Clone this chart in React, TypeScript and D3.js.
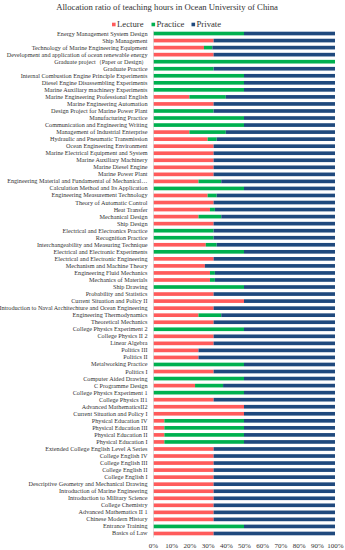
import { useEffect, useRef } from 'react';
import * as d3 from 'd3';

const categories = [
  'Energy Management System Design',
  'Ship Management',
  'Technology of  Marine Engineering Equipment',
  'Development and application of ocean renewable energy',
  'Graduate project（Paper or Design）',
  'Graduate Practice',
  'Internal Combustion Engine Principle Experiments',
  'Diesel Engine Disassembling Experiments',
  'Marine Auxiliary machinery Experiments',
  'Marine Engineering Professional English',
  'Marine Engineering Automation',
  'Design Project for Marine Power Plant',
  'Manufacturing Practice',
  'Communication and Engineering Writing',
  'Management of  Industrial Enterprise',
  'Hydraulic and Pneumatic Transmission',
  'Ocean Engineering Environment',
  'Marine Electrical Equipment and System',
  'Marine Auxiliary Machinery',
  'Marine Diesel Engine',
  'Marine Power Plant',
  'Engineering Material and Fundamental of Mechanical…',
  'Calculation Method and Its Application',
  'Engineering Measurement Technology',
  'Theory of Automatic Control',
  'Heat Transfer',
  'Mechanical Design',
  'Ship Design',
  'Electrical and Electronics Practice',
  'Recognition Practice',
  'Interchangeability and Measuring Technique',
  'Electrical and Electronic Experiments',
  'Electrical and Electronic Engineering',
  'Mechanism and Machine Theory',
  'Engineering Fluid Mechanics',
  'Mechanics of Materials',
  'Ship Drawing',
  'Probability and Statistics',
  'Current Situation and Policy II',
  'Introduction to Naval Architechture and Ocean Engineering',
  'Engineering Thermodynamics',
  'Theoretical Mechanics',
  'College Physics Experiment 2',
  'College Physics II 2',
  'Linear Algebra',
  'Politics III',
  'Politics II',
  'Metalworking Practice',
  'Politics I',
  'Computer Aided Drawing',
  'C Programme Design',
  'College Physics Experiment 1',
  'College Physics II1',
  'Advanced MathematicsII2',
  'Current Situation and Policy I',
  'Physical Education IV',
  'Physical Education III',
  'Physical Education II',
  'Physical Education I',
  'Extended College English Level A Series',
  'College English IV',
  'College English III',
  'College English II',
  'College English I',
  'Descriptive Geometry and Mechanical Drawing',
  'Introduction of Marine Engineering',
  'Introduction to Military Science',
  'College Chemistry',
  'Advanced Mathematics II 1',
  'Chinese Modern History',
  'Entrance Training',
  'Basics of Law',
];

// percentages
const lecture = [
  0, 33.3, 28, 33.3, 0, 0, 0, 0, 0, 20, 33.3, 0, 0, 0, 20, 30, 33.3, 33.3, 33.3, 33.3,
  33.3, 25, 0, 30, 33.3, 31.3, 25, 33.3, 0, 0, 29, 0, 33.3, 28.5, 31.3, 31.3, 0, 33.3,
  50, 33.3, 25, 33.3, 0, 33.3, 33.3, 25, 25, 0, 33.3, 0, 23.1, 0, 33.3, 50, 50, 6.25,
  6.25, 6.25, 6.25, 33.3, 33.3, 33.3, 33.3, 33.3, 33.3, 33.3, 33.3, 33.3, 33.3, 33.3, 0,
  33.3,
];
const practice = [
  50, 0, 4.6, 0, 100, 33.3, 50, 50, 50, 20, 0, 33.3, 50, 50, 20, 5, 0, 0, 0, 0,
  0, 12.5, 50, 5, 0, 2.7, 12.5, 0, 33.3, 33.3, 6, 50, 0, 0, 2.7, 2.7, 50, 0,
  0, 0, 12.5, 0, 50, 0, 0, 0, 0, 50, 0, 50, 15.4, 50, 0, 0, 0, 43.75,
  43.75, 43.75, 43.75, 0, 0, 0, 0, 0, 0, 0, 0, 0, 0, 0, 50,
  0,
];
const privateHours = [
  50, 66.7, 67.4, 66.7, 0, 66.7, 50, 50, 50, 60, 66.7, 66.7, 50, 50, 60, 65, 66.7, 66.7, 66.7, 66.7,
  66.7, 62.5, 50, 65, 66.7, 66, 62.5, 66.7, 66.7, 66.7, 65, 50, 66.7, 71.5, 66, 66, 50, 66.7,
  50, 66.7, 62.5, 66.7, 50, 66.7, 66.7, 75, 75, 50, 66.7, 50, 61.5, 50, 66.7, 50, 50, 50,
  50, 50, 50, 66.7, 66.7, 66.7, 66.7, 66.7, 66.7, 66.7, 66.7, 66.7, 66.7, 66.7, 50,
  66.7,
];

const seriesNames = ['Lecture', 'Practice', 'Private'];
const colors = ['#ff5b5b', '#00b04f', '#1f497d'];
const xTicks = [0, 10, 20, 30, 40, 50, 60, 70, 80, 90, 100];

const font = '"Liberation Serif", "Times New Roman", serif';

export default function App() {
  const svgRef = useRef<SVGSVGElement>(null);
  const width = 345;
  const height = 550;

  useEffect(() => {
    if (!svgRef.current) return;
    const svg = d3.select(svgRef.current);
    svg.selectAll('*').remove();

    const margin = { top: 30, right: 10, bottom: 13, left: 153 };
    const plotW = 335 - margin.left;

    const rows = categories.map((c, i) => ({
      name: c,
      Lecture: lecture[i],
      Practice: practice[i],
      Private: privateHours[i],
    }));

    const stack = d3.stack<any>().keys(seriesNames);
    const layers = stack(rows);

    const x = d3.scaleLinear().domain([0, 100]).range([margin.left, margin.left + plotW]);
    const y = d3
      .scaleBand()
      .domain(categories)
      .range([margin.top, height - margin.bottom])
      .paddingInner(0.48)
      .paddingOuter(0.24);

    // title
    svg
      .append('text')
      .attr('x', 167)
      .attr('y', 9.5)
      .attr('text-anchor', 'middle')
      .attr('font-family', font)
      .attr('font-size', '8.7px')
      .attr('fill', '#333')
      .text('Allocation ratio of teaching hours in Ocean University of  China');

    // legend
    const legendX = [112, 151.5, 191.5];
    const legend = svg
      .selectAll('.legend')
      .data(seriesNames)
      .enter()
      .append('g')
      .attr('transform', (_d, i) => `translate(${legendX[i]},24.5)`);
    legend
      .append('rect')
      .attr('x', 0)
      .attr('y', -1.8)
      .attr('width', 3.6)
      .attr('height', 3.6)
      .attr('fill', (_d, i) => colors[i]);
    legend
      .append('text')
      .attr('x', 5)
      .attr('y', 2.9)
      .attr('font-family', font)
      .attr('font-size', '8.7px')
      .attr('fill', '#333')
      .text(d => d);

    // bars
    svg
      .selectAll('.layer')
      .data(layers)
      .enter()
      .append('g')
      .attr('fill', (_d, i) => colors[i])
      .selectAll('rect')
      .data(d => d)
      .enter()
      .append('rect')
      .attr('x', d => x(d[0]))
      .attr('y', d => y(d.data.name) ?? 0)
      .attr('width', d => Math.max(0, x(d[1]) - x(d[0])))
      .attr('height', y.bandwidth());

    // category axis
    const yAxis = svg
      .append('g')
      .attr('transform', `translate(${margin.left},0)`)
      .call(d3.axisLeft(y).tickSize(0).tickPadding(5.5));
    yAxis.select('.domain').attr('stroke', '#d9d9d9').attr('stroke-width', 0.8);
    yAxis
      .selectAll('text')
      .attr('font-family', font)
      .attr('font-size', '6.2px')
      .attr('fill', '#333');

    // percent axis
    const xAxis = svg
      .append('g')
      .attr('transform', `translate(0,${height - margin.bottom})`)
      .call(
        d3
          .axisBottom(x)
          .tickValues(xTicks)
          .tickSize(0)
          .tickPadding(6)
          .tickFormat(d => `${d}%`)
      );
    xAxis.select('.domain').remove();
    xAxis
      .selectAll('text')
      .attr('font-family', font)
      .attr('font-size', '7px')
      .attr('fill', '#333');
  }, []);

  return (
    <div style={{ position: 'absolute', left: 0, top: 0, background: '#fff' }}>
      <svg ref={svgRef} width={width} height={height} style={{ display: 'block' }}></svg>
    </div>
  );
}
